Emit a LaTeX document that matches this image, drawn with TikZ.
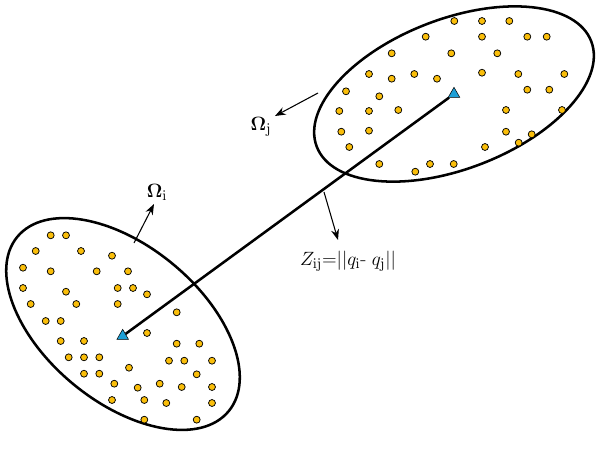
\documentclass[tikz,border=0pt]{standalone}
\usepackage{amsmath}
\usetikzlibrary{shapes.geometric,arrows.meta}
\begin{document}
\begin{tikzpicture}[x=0.75pt,y=-0.75pt,
  dot/.style={circle,draw=black,fill={rgb,255:red,250;green,190;blue,10},line width=0.55pt,inner sep=0pt,minimum size=5.2pt},
  tri/.style={regular polygon,regular polygon sides=3,draw=black,fill={rgb,255:red,30;green,160;blue,215},line width=0.4pt,inner sep=0pt,minimum size=10pt},
  bound/.style={draw=black,line width=1.9pt},
  ptr/.style={-{Stealth[length=8pt,width=6pt]},line width=0.8pt},
  lbl/.style={font=\fontsize{15}{17}\selectfont,inner sep=1pt}]
\useasboundingbox (0,0) rectangle (600,458);
\draw[bound,rotate around={21:(454,94)}] (454,94) ellipse [x radius=147,y radius=-75];
\draw[bound,rotate around={-39.5:(123,324)}] (123,324) ellipse [x radius=137,y radius=-78];
\foreach \p in {(454.3,21),(482,21),(509.3,21),(425.7,36.7),(482,36.7),(527.3,36.7),(546.7,36.7),(391.7,53.3),(451.3,53.3),(497.3,53.3),(369,74),(391.7,78.7),(414.3,74),(437,78.7),(482,72.7),(518.3,74),(564.3,74),(346,91.3),(379.3,96.3),(527.3,89.7),(549.3,89.7),(339.3,111),(369,111),(398.3,110),(506,110),(562,110),(341.3,131.7),(369,130.7),(506,131.7),(531.7,134.3),(518.7,142.7),(349.3,147),(485,147),(379.3,164),(415.3,171.7),(430,164),(453.7,164),
(50.7,235.3),(66,235.3),(35.7,251),(81,251),(112,255.7),(23,267.7),(50.7,271.3),(96.7,271.3),(128,271.3),(23,288),(66,291.7),(117.7,288),(133,288),(147,294.3),(30.7,304),(76.3,304),(117.7,304),(176.7,312.3),(45.7,321),(60.7,321),(147,333),(60.7,341),(84,341),(176.7,343.7),(199.3,343.7),(68.7,357.3),(84,357.3),(99.3,357.3),(129,367.7),(169,360.7),(184.3,360.7),(212,360.7),(84,373.7),(99.3,373.7),(196.7,374.3),(114.3,383.7),(137.7,387.7),(159.7,383.7),(181.7,387),(212,387),(112,400),(144.3,400),(166.3,403),(212,403),(144.3,419.7),(196.7,419.7)}
  \node[dot] at \p {};
\node[tri] (tj) at (454,94) {};
\node[tri] (ti) at (122.7,336) {};
\draw[line width=1.9pt] (ti) -- (tj);
\coordinate (zs) at (324,192);
\coordinate (ze) at (338,240);
\draw[ptr] (zs) -- (ze);
\node[lbl] (zl) at (348,261) {$Z_{\mathrm{ij}}{=}||q_{\mathrm{i}}\text{-}\;q_{\mathrm{j}}||$};
\coordinate (js) at (318,93);
\coordinate (je) at (275,116);
\draw[ptr] (js) -- (je);
\node[lbl] (jl) at (261,127) {$\boldsymbol{\Omega}_{\mathrm{j}}$};
\coordinate (is) at (134,243);
\coordinate (ie) at (154,204);
\draw[ptr] (is) -- (ie);
\node[lbl] (il) at (157,192) {$\boldsymbol{\Omega}_{\mathrm{i}}$};
\end{tikzpicture}
\end{document}
